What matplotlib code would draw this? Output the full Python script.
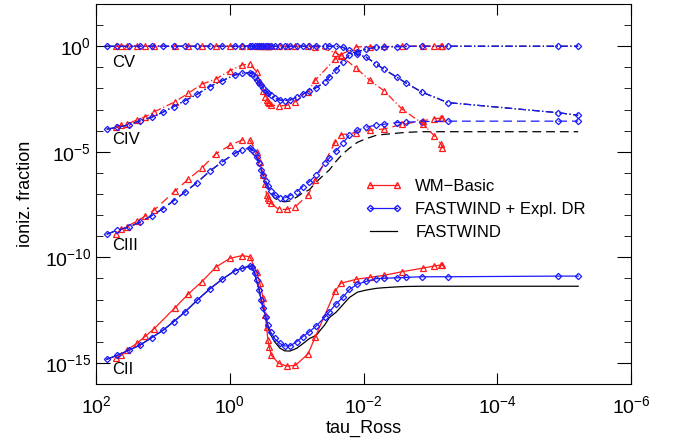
import numpy as np
import matplotlib.pyplot as plt

# log10(tau_Ross) de los modelos
ltau_fw = [1.84, 1.68, 1.50, 1.34, 1.17, 1.00, 0.84, 0.67, 0.49, 0.30, 0.11, -0.08,
           -0.19, -0.30, -0.34, -0.37, -0.40, -0.44, -0.47, -0.50, -0.54, -0.57,
           -0.61, -0.67, -0.75, -0.82, -0.90, -1.00, -1.09, -1.19, -1.29, -1.42,
           -1.49, -1.59, -1.69, -1.79, -1.91, -2.04, -2.19, -2.30, -2.50, -2.64,
           -2.87, -3.26, -4.91, -5.21]
ltau_wm = [1.70, 1.62, 1.54, 1.39, 1.26, 1.13, 0.82, 0.62, 0.42, 0.21, 0.0, -0.18,
           -0.30, -0.40, -0.45, -0.50, -0.53, -0.55, -0.57, -0.59, -0.62, -0.73,
           -0.85, -0.98, -1.17, -1.28, -1.58, -1.66, -1.89, -2.09, -2.31, -2.58,
           -2.89, -3.06, -3.16, -3.18]

# log10 de la fraccion de ionizacion -- FASTWIND + Expl. DR
cii_dr = [-14.83, -14.64, -14.39, -14.15, -13.81, -13.46, -13.05, -12.59, -12.04, -11.50,
          -11.03, -10.63, -10.52, -10.41, -10.47, -10.76, -11.08, -11.56, -12.02, -12.42,
          -12.82, -13.21, -13.53, -13.84, -14.08, -14.20, -14.20, -14.00, -13.76, -13.53,
          -13.26, -12.84, -12.58, -12.21, -11.90, -11.52, -11.27, -11.14, -11.01, -10.99,
          -10.97, -10.95, -10.92, -10.92, -10.89, -10.89]
ciii_dr = [-8.91, -8.71, -8.55, -8.33, -8.03, -7.70, -7.32, -6.91, -6.46, -5.92,
           -5.47, -5.07, -4.90, -4.81, -4.91, -5.05, -5.23, -5.55, -5.85, -6.10,
           -6.40, -6.60, -6.85, -7.05, -7.18, -7.18, -7.08, -6.90, -6.65, -6.42,
           -6.10, -5.55, -5.30, -4.95, -4.60, -4.20, -3.98, -3.84, -3.73, -3.70,
           -3.62, -3.60, -3.57, -3.55, -3.55, -3.55]
civ_dr = [-3.93, -3.84, -3.72, -3.53, -3.37, -3.13, -2.86, -2.58, -2.28, -1.91,
          -1.63, -1.36, -1.28, -1.25, -1.32, -1.44, -1.58, -1.72, -1.85, -1.98,
          -2.10, -2.22, -2.33, -2.45, -2.55, -2.58, -2.55, -2.42, -2.28, -2.10,
          -1.97, -1.70, -1.44, -1.12, -0.73, -0.41, -0.26, -0.14, -0.05, -0.03,
          -0.02, -0.01, 0.0, 0.0, 0.0, 0.0]
cv_dr = [0.0] * 34 + [-0.05, -0.20, -0.38, -0.52, -0.84, -1.08,
                      -1.47, -1.75, -2.17, -2.67, -3.15, -3.27]

# FASTWIND (sin DR explicita)
cii_fw = cii_dr[:20] + [-12.85, -13.30, -13.65, -14.00, -14.30, -14.43, -14.44, -14.31,
                        -14.10, -13.85, -13.70, -13.20, -12.85, -12.60, -12.25, -11.90,
                        -11.65, -11.55, -11.47, -11.44, -11.40, -11.38, -11.37, -11.37,
                        -11.37, -11.37]
ciii_fw = ciii_dr[:20] + [-6.45, -6.70, -6.95, -7.20, -7.33, -7.37, -7.33, -7.15,
                          -6.95, -6.80, -6.45, -6.05, -5.86, -5.45, -5.10, -4.83,
                          -4.55, -4.38, -4.22, -4.18, -4.12, -4.08, -4.05, -4.05,
                          -4.05, -4.05]
civ_fw = civ_dr
cv_fw = cv_dr

# WM-Basic
cii_wm = [-14.76, -14.64, -14.39, -14.08, -13.73, -13.38, -12.39, -11.74, -11.16, -10.47,
          -10.05, -9.92, -9.97, -10.68, -11.23, -11.94, -12.73, -13.29, -13.92, -14.24,
          -14.63, -15.02, -15.15, -15.12, -14.58, -13.76, -11.58, -11.23, -11.04, -10.95,
          -10.85, -10.68, -10.51, -10.41, -10.36, -10.38]
ciii_wm = [-8.90, -8.67, -8.55, -8.28, -8.04, -7.76, -6.86, -6.30, -5.78, -5.10,
           -4.70, -4.45, -4.44, -5.00, -5.50, -6.10, -6.55, -7.05, -7.20, -7.28,
           -7.45, -7.73, -7.73, -7.60, -7.05, -6.34, -4.52, -4.20, -4.09, -3.98,
           -3.92, -3.70, -3.53, -3.43, -3.41, -3.40]
civ_wm = [-3.83, -3.75, -3.70, -3.49, -3.34, -3.11, -2.63, -2.23, -1.80, -1.56,
          -1.16, -0.89, -0.84, -1.20, -1.68, -2.10, -2.39, -2.55, -2.63, -2.70,
          -2.78, -2.83, -2.80, -2.63, -2.15, -1.60, -0.60, -0.40, -0.03, -0.02,
          -0.01, 0.0, 0.0, 0.0, 0.0, 0.0]
cv_wm = [0.0] * 25 + [-0.02, -0.30, -0.45, -1.04, -1.60, -2.12, -2.99, -3.68, -4.25,
                      -4.64, -4.83]

ions = ['CII', 'CIII', 'CIV', 'CV']
label_pos = [-15.29, -9.46, -4.44, -0.78]
estilos = ['-', (0, (7, 4)), (0, (6, 2, 1, 2)), (0, (6, 2, 1, 2))]
wm = [cii_wm, ciii_wm, civ_wm, cv_wm]
dr = [cii_dr, ciii_dr, civ_dr, cv_dr]
fw = [cii_fw, ciii_fw, civ_fw, cv_fw]

rojo = '#ff1a1a'
azul = '#1a1aff'

plt.rcParams['font.family'] = 'Liberation Sans'
plt.rcParams['mathtext.fontset'] = 'custom'
plt.rcParams['mathtext.rm'] = 'Liberation Sans'
plt.rcParams['mathtext.it'] = 'Liberation Sans'
plt.rcParams['mathtext.default'] = 'rm'

fig = plt.figure(figsize=(6.78, 4.43), dpi=100)
ax = fig.add_axes([0.1416, 0.1332, 0.7891, 0.8578])

t_fw = 10.0 ** np.array(ltau_fw)
t_wm = 10.0 ** np.array(ltau_wm)

for i in range(4):
    ax.plot(t_fw, 10.0 ** np.array(fw[i]), color='black', lw=0.9, ls=estilos[i])
    ax.plot(t_wm, 10.0 ** np.array(wm[i]), color=rojo, lw=0.9, ls=estilos[i],
            marker='^', ms=4.5, mfc='none', mec=rojo, mew=0.9)
    ax.plot(t_fw, 10.0 ** np.array(dr[i]), color=azul, lw=0.9, ls=estilos[i],
            marker='D', ms=3.2, mfc='none', mec=azul, mew=0.9)
    ax.text(10 ** 1.76, 10.0 ** label_pos[i], ions[i], fontsize=12, va='center', ha='left')

# leyenda
h1, = ax.plot([], [], color=rojo, lw=0.9, marker='^', ms=4.5, mfc='none', mec=rojo)
h2, = ax.plot([], [], color=azul, lw=0.9, marker='D', ms=3.2, mfc='none', mec=azul)
h3, = ax.plot([], [], color='black', lw=0.9)
ax.legend([h1, h2, h3], ['WM\u2212Basic', 'FASTWIND + Expl. DR', 'FASTWIND'],
          loc='upper left', bbox_to_anchor=(0.475, 0.58), frameon=False, numpoints=2,
          fontsize=12, handlelength=2.2, handletextpad=0.8, labelspacing=0.5)

ax.set_xscale('log')
ax.set_yscale('log')
ax.set_xlim(1e2, 1e-6)
ax.set_ylim(1e-16, 1e2)
ax.set_xticks([1e2, 1e0, 1e-2, 1e-4, 1e-6])
ax.set_yticks([1e-15, 1e-10, 1e-5, 1e0])
ax.set_yticks([10.0 ** k for k in range(-16, 3)], minor=True)
ax.xaxis.set_minor_locator(plt.NullLocator())
ax.yaxis.set_minor_formatter(plt.NullFormatter())
ax.tick_params(which='both', direction='in', top=True, right=True, labelsize=14)
ax.tick_params(axis='y', which='major', length=10)
ax.tick_params(axis='y', which='minor', length=5)
ax.tick_params(axis='x', which='major', length=8, pad=8)

ax.set_xlabel('tau_Ross', fontsize=13, labelpad=2)
ax.set_ylabel('ioniz. fraction', fontsize=13, labelpad=8)

fig.savefig('out.png', dpi=100)
